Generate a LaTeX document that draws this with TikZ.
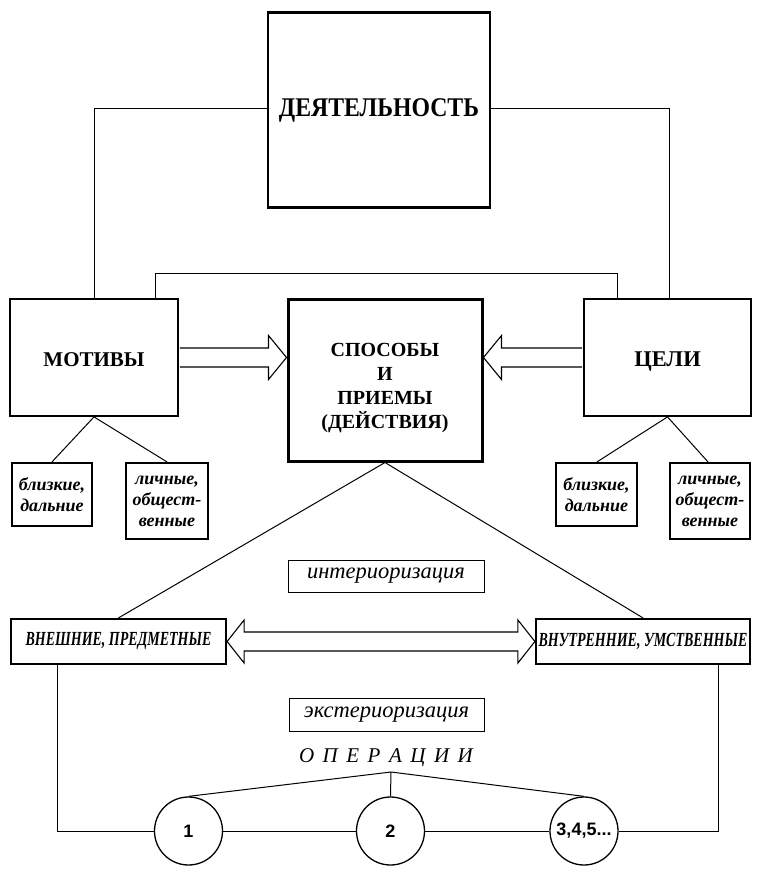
\documentclass[tikz,border=0pt]{standalone}
\usepackage{fontspec}
\setmainfont{Liberation Serif}
\newfontfamily\numfont{Liberation Sans}
\usetikzlibrary{calc}
\begin{document}
\begin{tikzpicture}[x=1pt,y=-1pt,
  bigbox/.style={draw, line width=1.8pt, inner sep=0pt, align=center, font=\bfseries\fontsize{20}{24}\selectfont},
  smallbox/.style={draw, line width=2.2pt, inner sep=0pt, align=center, font=\bfseries\itshape\fontsize{18}{21}\selectfont},
  formbox/.style={draw, line width=2.2pt, inner sep=0pt, font=\bfseries\itshape\fontsize{20}{22}\selectfont},
  procbox/.style={draw, line width=0.9pt, inner sep=0pt, font=\itshape\fontsize{22.5}{24}\selectfont},
  opcircle/.style={draw, line width=1.3pt, circle, minimum size=68pt, inner sep=0pt, font=\numfont\bfseries\fontsize{18}{20}\selectfont},
  conn/.style={line width=1pt},
  hollow/.style={draw, line width=1.1pt, fill=white, line join=miter}
]
\useasboundingbox (0,0) rectangle (761,870);

% main boxes
\node[bigbox, line width=2.2pt, minimum width=222pt, minimum height=195pt, font=\bfseries\fontsize{27}{30}\selectfont] (act) at (379,110) {\raisebox{-3pt}{\scalebox{0.88}[1]{ДЕЯТЕЛЬНОСТЬ}}};
\node[bigbox, minimum width=168pt, minimum height=117pt, font=\bfseries\fontsize{21}{24}\selectfont] (mot) at (94,357.5) {\rule{0pt}{19pt}МОТИВЫ};
\node[bigbox, line width=3pt, minimum width=194pt, minimum height=162pt] (spos) at (385,380) {\rule{0pt}{30pt}СПОСОБЫ\\И\\ПРИЕМЫ\\(ДЕЙСТВИЯ)};
\node[bigbox, minimum width=167pt, minimum height=117pt, font=\bfseries\fontsize{22.5}{24}\selectfont] (cel) at (667.5,357.5) {\rule{0pt}{22pt}ЦЕЛИ};

% small boxes
\node[smallbox, minimum width=80pt, minimum height=63pt] (s1) at (52,494.5) {близкие,\\дальние};
\node[smallbox, minimum width=82pt, minimum height=76pt] (s2) at (167,501) {личные,\\общест-\\венные};
\node[smallbox, minimum width=81pt, minimum height=63pt] (s3) at (596.5,494.5) {близкие,\\дальние};
\node[smallbox, minimum width=80pt, minimum height=76pt] (s4) at (710,501) {личные,\\общест-\\венные};

% process boxes
\node[procbox, minimum width=196pt, minimum height=32pt] (int) at (386,576) {\raisebox{-3pt}{интериоризация}};
\node[procbox, minimum width=195pt, minimum height=33pt] (ext) at (386.5,714.5) {\raisebox{-3pt}{экстериоризация}};

% forms
\node[formbox, minimum width=215pt, minimum height=45pt] (vn) at (118.5,641.5) {\scalebox{0.70}[1]{ВНЕШНИЕ, ПРЕДМЕТНЫЕ}};
\node[formbox, minimum width=214pt, minimum height=45pt] (vnu) at (643,641.5) {\scalebox{0.70}[1]{ВНУТРЕННИЕ, УМСТВЕННЫЕ}};

% operations
\node[font=\itshape\fontsize{21}{24}\selectfont, inner sep=0pt] (ops) at (386,758) {О\hspace{8.5pt}П\hspace{8.5pt}Е\hspace{8.5pt}Р\hspace{8.5pt}А\hspace{8.5pt}Ц\hspace{8.5pt}И\hspace{8.5pt}И};
\coordinate (apex) at (391,772);
\node[opcircle] (c1) at (188.5,831) {1};
\node[opcircle] (c2) at (390.5,831) {2};
\node[opcircle] (c3) at (584,831) {3,4,5...};

% connectors top
\draw[conn] (act.west |- 0,108) -| (mot.north);
\draw[conn] (act.east |- 0,108) -| (669,299);
\coordinate (ml) at (155,299);
\coordinate (cr) at (617,299);
\draw[conn] (ml) -- ++(0,-26) -| (cr);

% motives/goals subdivisions
\draw[conn] (mot.south) -- (s1.north);
\draw[conn] (mot.south) -- (s2.north);
\draw[conn] (cel.south) -- ($(s3.north)+(0.5,0)$);
\draw[conn] (cel.south) -- ($(s4.north)+(-2,0)$);

% actions to forms
\draw[conn] (spos.south) -- (vn.north);
\draw[conn] (spos.south) -- (vnu.north);

% hollow arrows
\coordinate (t1) at (spos.west |- mot.east);
\draw[hollow] ($(mot.east)+(0.9,-9.5)$) -- ($(t1)+(-18,-9.5)$) -- ($(t1)+(-18,-22)$) -- (t1) -- ($(t1)+(-18,22)$) -- ($(t1)+(-18,9.5)$) -- ($(mot.east)+(0.9,9.5)$);
\coordinate (t2) at (spos.east |- cel.west);
\draw[hollow] ($(cel.west)+(-0.9,-9.5)$) -- ($(t2)+(18,-9.5)$) -- ($(t2)+(18,-22)$) -- (t2) -- ($(t2)+(18,22)$) -- ($(t2)+(18,9.5)$) -- ($(cel.west)+(-0.9,9.5)$);
\draw[hollow] (vn.east) -- ($(vn.east)+(17,-21.5)$) -- ($(vn.east)+(17,-9.5)$) -- ($(vnu.west)+(-17,-9.5)$) -- ($(vnu.west)+(-17,-21.5)$) -- (vnu.west) -- ($(vnu.west)+(-17,21.5)$) -- ($(vnu.west)+(-17,9.5)$) -- ($(vn.east)+(17,9.5)$) -- ($(vn.east)+(17,21.5)$) -- cycle;

% operations connectors
\draw[conn] (vn.south -| 57,0) |- (c1.west);
\draw[conn] (vnu.south -| 718,0) |- (c3.east);
\draw[conn] (c1.east) -- (c2.west);
\draw[conn] (c2.east) -- (c3.west);
\draw[conn] (apex) -- (c1.north);
\draw[conn] (apex) -- (c2.north);
\draw[conn] (apex) -- (c3.north);
\end{tikzpicture}
\end{document}
